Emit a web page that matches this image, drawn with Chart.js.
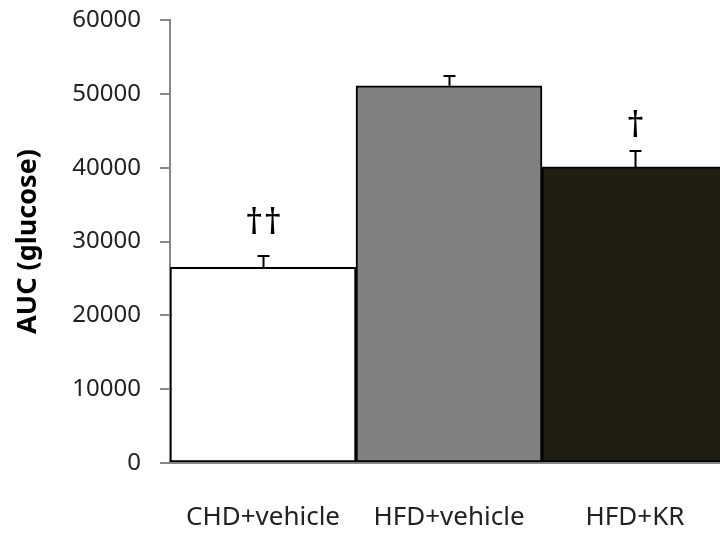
<!DOCTYPE html>
<html>
<head>
<meta charset="utf-8">
<script src="https://cdn.jsdelivr.net/npm/chart.js@4/dist/chart.umd.min.js"></script>
<style>
  html, body { margin: 0; padding: 0; background: #fff; overflow: hidden; }
  #wrap { width: 720px; height: 534px; overflow: hidden; position: relative; }
  #box { width: 740px; height: 534px; position: absolute; left: 0; top: 0; }
</style>
</head>
<body>
<div id="wrap"><div id="box"><canvas id="c" width="740" height="534"></canvas></div></div>
<script>
const categories = ['CHD+vehicle', 'HFD+vehicle', 'HFD+KR'];
const aucValues = [26500, 51100, 40100];
const errorUpper = [1500, 1300, 2100];
const sigLabels = ['††', '', '†'];
const sigAnchor = [32450, null, 45600];
const barColors = ['#ffffff', '#808080', '#201d12'];
const yTicks = [0, 10000, 20000, 30000, 40000, 50000, 60000];

const FONT = '"Noto Sans", "Open Sans", sans-serif';

const errPlugin = {
  id: 'errbars',
  afterDatasetsDraw(chart) {
    const ctx = chart.ctx;
    const x = chart.scales.x, y = chart.scales.y;
    ctx.save();
    ctx.strokeStyle = '#000';
    ctx.lineWidth = 2;
    aucValues.forEach((v, i) => {
      const cx = Math.round(x.getPixelForValue(i)) + 0.5;
      const y0 = y.getPixelForValue(v);
      const y1 = Math.round(y.getPixelForValue(v + errorUpper[i]));
      ctx.beginPath();
      ctx.moveTo(cx, y0);
      ctx.lineTo(cx, y1);
      ctx.moveTo(cx - 6, y1);
      ctx.lineTo(cx + 6, y1);
      ctx.stroke();
      if (sigLabels[i] && sigAnchor[i] != null) {
        ctx.fillStyle = '#000';
        ctx.font = '36px ' + FONT;
        ctx.textAlign = 'center';
        ctx.textBaseline = 'middle';
        ctx.fillText(sigLabels[i], cx, y.getPixelForValue(sigAnchor[i]));
      }
    });
    ctx.restore();
  }
};

new Chart(document.getElementById('c'), {
  type: 'bar',
  data: {
    labels: categories,
    datasets: [{
      data: aucValues,
      backgroundColor: barColors,
      borderColor: '#000',
      borderWidth: 2,
      borderSkipped: false,
      barPercentage: 1,
      categoryPercentage: 1
    }]
  },
  options: {
    responsive: false,
    animation: false,
    devicePixelRatio: 1,
    layout: { padding: { top: 20, right: 12, bottom: 0, left: 0 } },
    plugins: { legend: { display: false }, tooltip: { enabled: false } },
    scales: {
      x: {
        afterFit(scale) { scale.height = 71; scale.paddingLeft = 0; scale.paddingRight = 0; },
        grid: { display: false, drawTicks: false },
        border: { display: true, color: '#888', width: 2 },
        ticks: { color: '#222', font: { family: FONT, size: 26 }, padding: 39 }
      },
      y: {
        min: 0, max: 60000,
        afterBuildTicks(scale) { scale.ticks = yTicks.map(v => ({ value: v })); },
        afterFit(scale) { scale.width = 170; scale.paddingTop = 0; scale.paddingBottom = 0; },
        grid: { drawOnChartArea: false, drawTicks: true, tickLength: 10, color: '#888', lineWidth: 2 },
        border: { display: true, color: '#888', width: 2 },
        ticks: { color: '#222', font: { family: FONT, size: 24 }, padding: 19, callback: v => String(v) },
        title: {
          display: true, text: 'AUC (glucose)', color: '#000',
          font: { family: FONT, size: 27, weight: 'bold' },
          padding: { top: 12, bottom: 0 }
        }
      }
    }
  },
  plugins: [errPlugin]
});
</script>
</body>
</html>
